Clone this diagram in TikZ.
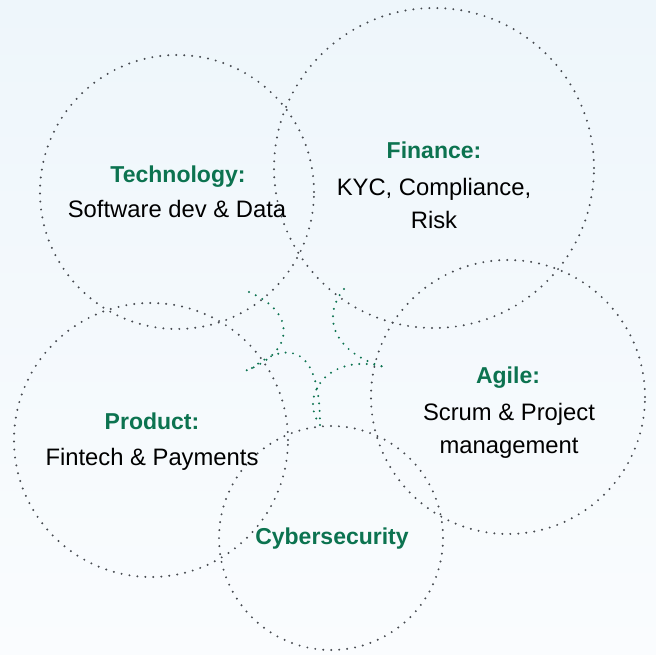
\documentclass[tikz,border=0pt]{standalone}
\usepackage{fontspec}
\setmainfont{Liberation Sans}
\usetikzlibrary{positioning}
\definecolor{skillgreen}{RGB}{12,115,80}
\definecolor{dotgray}{RGB}{70,74,80}
\definecolor{bgtop}{RGB}{238,246,251}
\definecolor{bgbot}{RGB}{250,252,254}

\begin{document}
\begin{tikzpicture}[
  x=1pt, y=-1pt,
  ring/.style={circle, draw=dotgray, line width=2.2pt, line cap=round, dash pattern=on 0pt off 8pt, inner sep=0pt},
  flow/.style={draw=skillgreen, line width=2.2pt, line cap=round, dash pattern=on 0pt off 7.5pt},
  head/.style={font=\fontsize{23}{28}\selectfont\bfseries, text=skillgreen, anchor=base, inner sep=0pt},
  txt/.style={font=\fontsize{23.8}{33}\selectfont, align=center, anchor=base, text=black, inner sep=0pt}
]

% background
\shade[top color=bgtop, bottom color=bgbot] (0,0) rectangle (656,654);
\useasboundingbox (0,0) rectangle (656,654);

% circles
\node[ring, minimum size=274pt] (tech) at (177,192) {};
\node[ring, minimum size=320pt] (fin) at (434,168) {};
\node[ring, minimum size=274pt] (prod) at (151,440) {};
\node[ring, minimum size=274pt] (agile) at (508,397) {};
\node[ring, minimum size=224pt] (cyber) at (331,538) {};

% green links in the middle
\coordinate (a1) at (249,292);
\coordinate (a2) at (245,371);
\coordinate (b1) at (344,289);
\coordinate (b2) at (388,368);
\coordinate (c1) at (320,425);
\coordinate (d1) at (252,368);
\draw[flow] (a1) .. controls (296,312) and (296,352) .. (a2);
\draw[flow] (b1) .. controls (320,318) and (335,355) .. (b2);
\draw[flow] (c1) .. controls (298,395) and (330,350) .. (b2);
\draw[flow] (d1) .. controls (288,340) and (320,345) .. (c1);

% labels (base = last line)
\node[head] (techhead) at (178,182) {Technology:};
\node[txt] (techtxt) at (177,217) {Software dev \& Data};
\node[head] (finhead) at (434,158) {Finance:};
\node[txt] (fintxt) at (434,228) {KYC, Compliance,\\Risk};
\node[head] (prodhead) at (152,429) {Product:};
\node[txt] (prodtxt) at (152,465) {Fintech \& Payments};
\node[head] (agilehead) at (508,383) {Agile:};
\node[txt] (agiletxt) at (509,453) {Scrum \& Project\\management};
\node[head] (cyberhead) at (332,544) {Cybersecurity};

\end{tikzpicture}
\end{document}
